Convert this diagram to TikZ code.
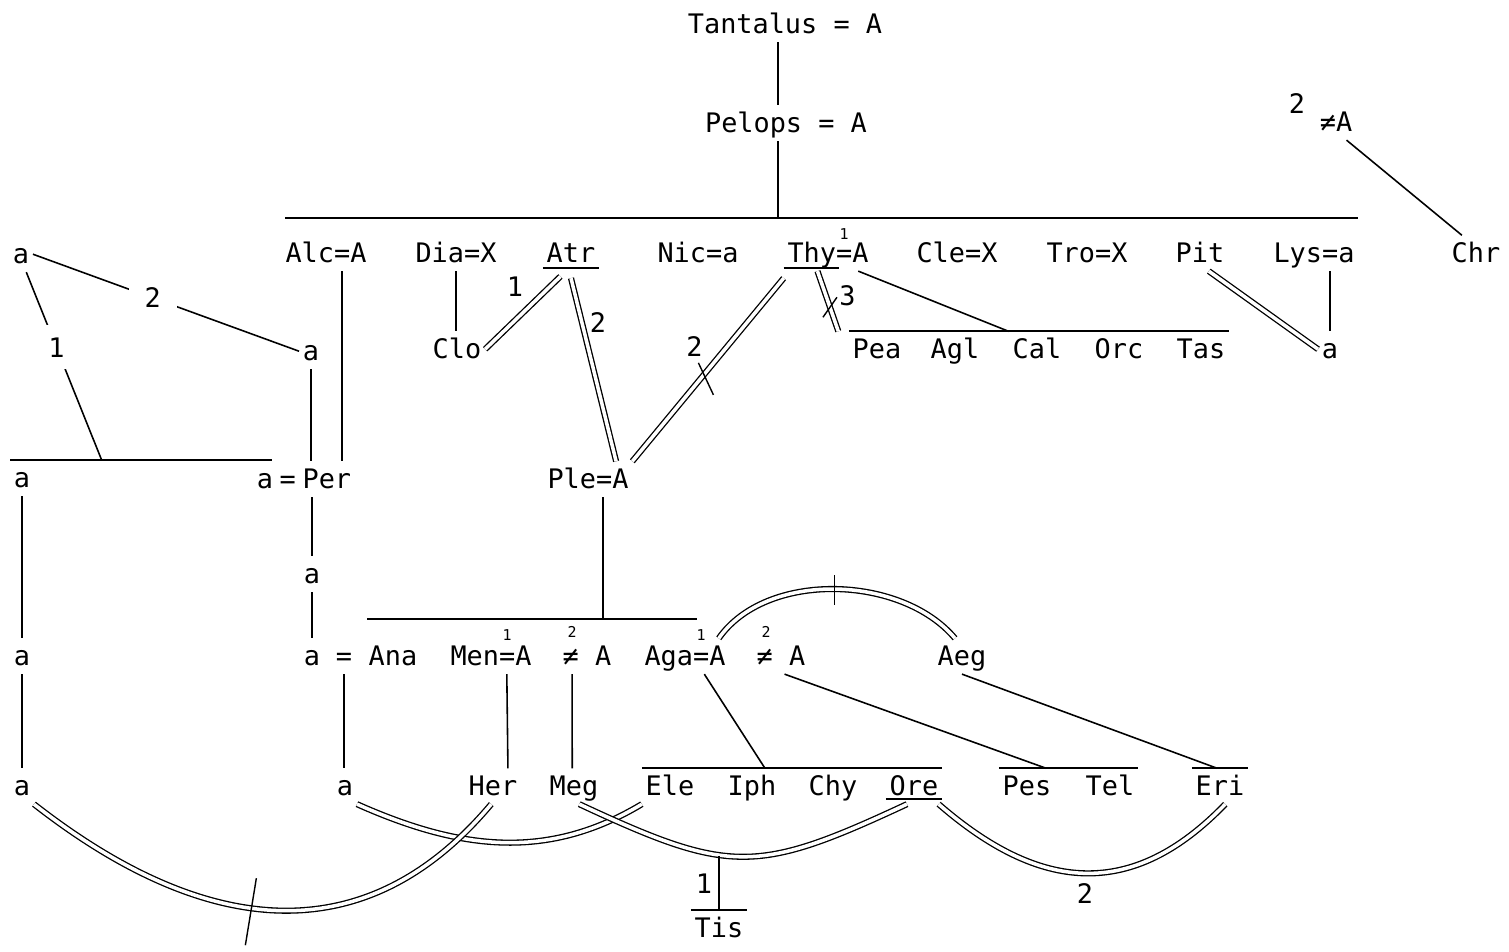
\documentclass[tikz,border=0pt]{standalone}
\usepackage{fontspec}
\newfontfamily\tw{DejaVu Sans Mono}

\begin{document}
\begin{tikzpicture}[
  x=0.02cm, y=-0.02cm,
  font=\tw\fontsize{15.3}{18}\selectfont,
  txt/.style       = {inner sep=2pt, text height=13pt, text depth=3pt, anchor=base},
  supnum/.style    = {inner sep=0pt, anchor=base, font=\tw\fontsize{8.5}{10}\selectfont},
  brk/.style       = {txt, anchor=center, fill=white, inner xsep=9pt, inner ysep=7pt,
                      text height=11pt, text depth=0pt},
  rel/.style       = {line width=0.9pt},
  sibbar/.style    = {line width=1.1pt},
  wed/.style       = {double, double distance=2pt, line width=0.75pt},
  crossmark/.style = {line width=0.8pt},
]
\useasboundingbox (0,0) rectangle (1509,951);

%% Founders
\node[txt] (tan) at (785,33)  {Tantalus = A};
\node[txt] (pel) at (786,132) {Pelops = A};
\coordinate (famtop) at (778,218);
\coordinate (famL)   at (285,218);
\coordinate (famR)   at (1358,218);
\draw[rel] (tan.south -| famtop) -- (pel.north -| famtop);
\draw[rel] (pel.south -| famtop) -- (famtop);
\draw[sibbar] (famL) -- (famR);

%% Children of Pelops
\node[txt] (alc) at (326,262)  {Alc=A};
\node[txt] (dia) at (456,262)  {Dia=X};
\node[txt] (atr) at (571,262)  {Atr};
\node[txt] (nic) at (698,262)  {Nic=a};
\node[txt] (thy) at (828,262)  {Thy=A};
\node[supnum] (thy1) at (844,239) {1};
\node[txt] (cle) at (957,262)  {Cle=X};
\node[txt] (tro) at (1087,262) {Tro=X};
\node[txt] (pit) at (1200,262) {Pit};
\node[txt] (lys) at (1314,262) {Lys=a};
\draw[sibbar] ([yshift=2pt]atr.south west) -- ([yshift=2pt]atr.south east);
\draw[sibbar] ([yshift=2pt]thy.south west) -- ++(55,0);

%% Chrysippus
\node[txt] (chr2) at (1297,113) {2};
\node[txt] (chrm) at (1336,131) {≠A};
\node[txt] (chr)  at (1476,262) {Chr};
\draw[rel] ([xshift=6pt]chrm.south) -- ([xshift=-8pt]chr.north);

%% Grandchildren row
\node[txt] (clo)  at (457,358)  {Clo};
\node[txt] (pea)  at (877,358)  {Pea};
\node[txt] (agl)  at (955,358)  {Agl};
\node[txt] (cal)  at (1037,358) {Cal};
\node[txt] (orc)  at (1119,358) {Orc};
\node[txt] (tas)  at (1201,358) {Tas};
\node[txt] (lysa) at (1330,358) {a};
\node[txt] (ple)  at (588,488)  {Ple=A};

\draw[rel] (dia.south) -- (dia.south |- clo.north);
\draw[wed] ([xshift=-6pt,yshift=-3pt]atr.south) -- node[txt, pos=.16, left=12pt] (atr1) {1} (clo.east);
\draw[wed] ([yshift=-4pt]atr.south) -- node[txt, pos=.25, right=2pt] (atr2) {2} ([xshift=16pt]ple.north);
\draw[wed] ([yshift=-4pt]thy.south west) -- node[txt, pos=.38, left=11pt] (thy2) {2}
     coordinate[pos=.55] (thyCut) (ple.north east);
\draw[crossmark] ([shift={(-2,-16)}]thyCut) -- ([shift={(13,16)}]thyCut);
\draw[wed] ([xshift=-6pt]thy.south) -- node[txt, pos=.43, right=5pt] (thy3) {3}
     coordinate[pos=.6] (peaCut) ([xshift=-6pt]pea.north west);
\draw[crossmark] ([shift={(-7,10)}]peaCut) -- ([shift={(7,-10)}]peaCut);
\draw[sibbar] (pea.north west) -- (tas.north east) coordinate[pos=.42] (calTop);
\draw[rel] ([xshift=-8pt]thy.south east) -- (calTop);
\draw[wed] ([xshift=5pt]pit.south) -- (lysa.west);
\draw[rel] (lysa.north |- lys.south) -- (lysa.north);

%% Left branch
\node[txt] (aL1)  at (21,263)  {a};
\node[txt] (aPer) at (311,360) {a};
\node[txt] (aL2)  at (22,487)  {a};
\node[txt] (per)  at (304,488) {a\hspace{0.25em}=\hspace{0.25em}Per};
\node[txt] (aMid) at (312,583) {a};
\node[txt] (aL3)  at (22,665)  {a};
\node[txt] (aL4)  at (22,795)  {a};

\draw[rel] (aL1.east) -- node[brk, pos=.45] (n2L) {2} (aPer.west);
\draw[sibbar] (aL2.north west) -- ++(262,0) coordinate[pos=.35] (hitL);
\draw[rel] ([xshift=3pt]aL1.south) -- node[brk, pos=.4] (n1L) {1} (hitL);
\draw[rel] (aPer.south) -- (aPer.south |- per.north);
\draw[rel] ([shift={(16,0)}]alc.south) -- ([shift={(38,0)}]per.north);
\draw[rel] (aMid.north |- per.south) -- (aMid.north);
\draw[rel] (aL2) -- (aL3);
\draw[rel] (aL3) -- (aL4);

%% Children of Pleisthenes
\node[txt] (aAna)  at (312,665) {a};
\node[txt] (eqAna) at (344,665) {=};
\node[txt] (ana)   at (393,665) {Ana};
\node[txt] (men)   at (491,665) {Men=A};
\node[supnum] (men1)  at (507,640) {1};
\node[txt] (neqA)  at (587,665) {≠ A};
\node[supnum] (neqA2) at (572,637) {2};
\node[txt] (aga)   at (685,665) {Aga=A};
\node[supnum] (aga1)  at (701,640) {1};
\node[txt] (neqB)  at (781,665) {≠ A};
\node[supnum] (neqB2) at (766,637) {2};
\node[txt] (aeg)   at (962,665) {Aeg};

\coordinate (sibL)    at (367,619);
\coordinate (sibR)    at (697,619);
\coordinate (pleDrop) at (603,619);
\draw[sibbar] (sibL) -- (sibR);
\draw[rel] (ple.south -| pleDrop) -- (pleDrop);
\draw[rel] (aMid) -- (aAna);

%% Last generation
\node[txt] (aBot) at (345,795)  {a};
\node[txt] (her)  at (493,795)  {Her};
\node[txt] (meg)  at (574,795)  {Meg};
\node[txt] (ele)  at (670,795)  {Ele};
\node[txt] (iph)  at (752,795)  {Iph};
\node[txt] (chy)  at (833,795)  {Chy};
\node[txt] (ore)  at (914,795)  {Ore};
\node[txt] (pes)  at (1027,795) {Pes};
\node[txt] (tel)  at (1110,795) {Tel};
\node[txt] (eri)  at (1220,795) {Eri};
\node[txt] (tis)  at (719,937)  {Tis};
\node[txt] (tis1) at (704,893)  {1};

\draw[rel] (eqAna.south) -- (eqAna.south |- aBot.north);
\draw[rel] ([xshift=9pt]men.south) -- ([xshift=8.5pt]her.north);
\draw[rel] ([xshift=-8.5pt]neqA.south) -- ([xshift=-1pt]meg.north);
\draw[sibbar] (ele.north west) -- (ore.north east) coordinate[pos=.41] (iphTop);
\draw[rel] ([xshift=11pt]aga.south) -- (iphTop);
\draw[sibbar] ([yshift=3pt]ore.south west) -- ([yshift=3pt]ore.south east);
\draw[sibbar] (pes.north west) -- (tel.north east) coordinate[pos=.34] (pesTop);
\draw[rel] ([xshift=2pt]neqB.south) -- (pesTop);
\draw[sibbar] (eri.north west) -- (eri.north east) coordinate[pos=.45] (eriTop);
\draw[rel] (aeg.south) -- (eriTop);
\draw[sibbar] (tis.north west) -- (tis.north east);

%% Marriage arcs
\draw[wed] ([xshift=-6pt]aga.north east) to[out=55, in=130, looseness=.9]
     coordinate[pos=.5] (aegCut) ([xshift=-4pt]aeg.north);
\draw[crossmark] ([shift={(0,-14)}]aegCut) -- ([shift={(0,16)}]aegCut);
\draw[wed] (aBot.south east) to[out=-24, in=-149] (ele.south west);
\draw[wed] (aL4.south east) to[out=-38, in=-130, looseness=1.15]
     coordinate[pos=.45] (aCut) ([xshift=-1pt]her.south);
\draw[crossmark] ([shift={(6,-30)}]aCut) -- ([shift={(-5,37)}]aCut);
\draw[wed] ([xshift=3pt]meg.south) to[out=-25, in=-155, looseness=1.3]
     coordinate[pos=.43] (tisTop) ([xshift=-4pt]ore.south);
\draw[rel] (tis.north |- tisTop) -- (tis.north);
\draw[wed] ([xshift=-2pt]ore.south east) to[out=-41, in=-134, looseness=1.2]
     node[txt, pos=.5, below=2pt] (oreEri2) {2} ([xshift=3pt]eri.south);

\end{tikzpicture}
\end{document}
